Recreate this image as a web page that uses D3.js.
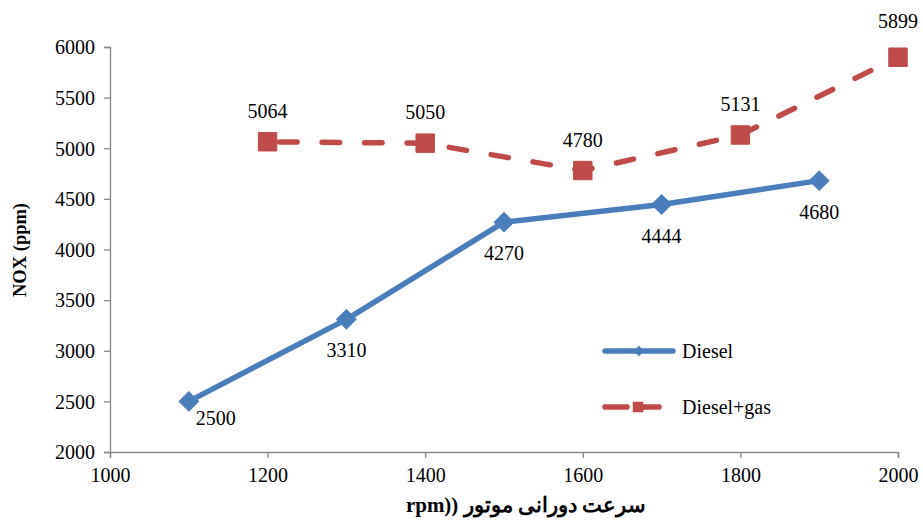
<!DOCTYPE html>
<html>
<head>
<meta charset="utf-8">
<script src="https://cdn.jsdelivr.net/npm/d3@7/dist/d3.min.js"></script>
</head>
<body style="margin:0;background:#fff">
<svg id="chart" width="923" height="522" style="display:block"></svg>
<script>
// Engine speed (rpm) and NOx emission (ppm)
const dieselRpm = [1100, 1300, 1500, 1700, 1900];
const dieselNox = [2500, 3310, 4270, 4444, 4680];
const gasRpm = [1200, 1400, 1600, 1800, 2000];
const gasNox = [5064, 5050, 4780, 5131, 5899];
const xTicks = [1000, 1200, 1400, 1600, 1800, 2000];
const yTicks = [2000, 2500, 3000, 3500, 4000, 4500, 5000, 5500, 6000];
const seriesNames = ["Diesel", "Diesel+gas"];
const xTitle = "rpm)) سرعت دورانی موتور";
const yTitle = "NOX (ppm)";

const blue = "#4A7EBB";
const red = "#BE4B48";
const axisGray = "#868686";
const serif = '"Liberation Serif", "Times New Roman", Tinos';

const svg = d3.select("#chart");
svg.append("rect").attr("width", 923).attr("height", 522).attr("fill", "#fff");

const x = d3.scaleLinear().domain([1000, 2000]).range([110, 898]);
const y = d3.scaleLinear().domain([2000, 6000]).range([452, 47]);

// Axes
const xAxis = svg.append("g").attr("transform", `translate(0,${y(2000)})`)
  .call(d3.axisBottom(x).tickValues(xTicks).tickSize(6).tickPadding(5).tickFormat(d3.format("d")));
const yAxis = svg.append("g").attr("transform", `translate(${x(1000)},0)`)
  .call(d3.axisLeft(y).tickValues(yTicks).tickSize(6).tickPadding(9).tickFormat(d3.format("d")));
[xAxis, yAxis].forEach(g => {
  g.select(".domain").attr("stroke", axisGray).attr("stroke-width", 1.3);
  g.selectAll(".tick line").attr("stroke", axisGray).attr("stroke-width", 1.3);
  g.selectAll(".tick text")
    .style("font-family", serif).style("font-size", "20px").attr("fill", "#000");
});
xAxis.selectAll(".tick text").attr("dy", "0.95em");
yAxis.selectAll(".tick text").attr("dy", "0.34em");

// Axis titles
svg.append("text")
  .attr("x", 526).attr("y", 512)
  .attr("text-anchor", "middle")
  .attr("direction", "ltr")
  .style("font-family", serif).style("font-weight", "bold").style("font-size", "21px")
  .text(xTitle);
svg.append("text")
  .attr("transform", "translate(26,250) rotate(-90)")
  .attr("text-anchor", "middle")
  .style("font-family", serif).style("font-weight", "bold").style("font-size", "18.5px")
  .text(yTitle);

const line = d3.line().x(d => x(d[0])).y(d => y(d[1]));
const dieselPts = dieselRpm.map((r, i) => [r, dieselNox[i]]);
const gasPts = gasRpm.map((r, i) => [r, gasNox[i]]);

// Diesel series: solid line with diamonds
svg.append("path").datum(dieselPts)
  .attr("d", line).attr("fill", "none")
  .attr("stroke", blue).attr("stroke-width", 5.5)
  .attr("stroke-linejoin", "round").attr("stroke-linecap", "round");
const diamond = d3.symbol().type(d3.symbolSquare).size(190);
svg.selectAll(".dmark").data(dieselPts).join("path")
  .attr("d", diamond)
  .attr("transform", d => `translate(${x(d[0])},${y(d[1])}) rotate(45)`)
  .attr("fill", blue).attr("stroke", blue).attr("stroke-width", 1);

// Diesel+gas series: dashed line with squares
svg.append("path").datum(gasPts)
  .attr("d", line).attr("fill", "none")
  .attr("stroke", red).attr("stroke-width", 5.5)
  .attr("stroke-dasharray", "17.5,25")
  .attr("stroke-dashoffset", -12)
  .attr("stroke-linejoin", "round").attr("stroke-linecap", "round");
const square = d3.symbol().type(d3.symbolSquare).size(340);
svg.selectAll(".smark").data(gasPts).join("path")
  .attr("d", square)
  .attr("transform", d => `translate(${x(d[0])},${y(d[1])})`)
  .attr("fill", red).attr("stroke", red).attr("stroke-width", 1);

// Value labels: Diesel below each point, Diesel+gas above
const dieselNudge = { 0: [27, -14] };
const gasNudge = { 4: [0, -5] };
svg.selectAll(".dlabel").data(dieselPts).join("text")
  .attr("x", (d, i) => x(d[0]) + (dieselNudge[i] ? dieselNudge[i][0] : 0))
  .attr("y", (d, i) => y(d[1]) + 38 + (dieselNudge[i] ? dieselNudge[i][1] : 0))
  .attr("text-anchor", "middle")
  .style("font-family", serif).style("font-size", "20px")
  .text(d => d[1]);
svg.selectAll(".glabel").data(gasPts).join("text")
  .attr("x", (d, i) => x(d[0]) + (gasNudge[i] ? gasNudge[i][0] : 0))
  .attr("y", (d, i) => y(d[1]) - 24 + (gasNudge[i] ? gasNudge[i][1] : 0))
  .attr("text-anchor", "middle")
  .style("font-family", serif).style("font-size", "20px")
  .text(d => d[1]);

// Legend
const legend = svg.append("g");
const legendRows = [
  { name: seriesNames[0], color: blue, dash: null, y: 351, sym: "diamond" },
  { name: seriesNames[1], color: red, dash: "22,10", y: 407, sym: "square" }
];
legendRows.forEach(r => {
  legend.append("line")
    .attr("x1", 605).attr("x2", r.dash ? 668 : 673)
    .attr("y1", r.y).attr("y2", r.y)
    .attr("stroke", r.color).attr("stroke-width", 5.5)
    .attr("stroke-linecap", "round")
    .attr("stroke-dasharray", r.dash);
  const sym = r.sym === "diamond"
    ? d3.symbol().type(d3.symbolSquare).size(55)
    : d3.symbol().type(d3.symbolSquare).size(110);
  legend.append("path")
    .attr("d", sym)
    .attr("transform", `translate(${r.sym === "diamond" ? 639 : 638},${r.y})` + (r.sym === "diamond" ? " rotate(45)" : ""))
    .attr("fill", r.color);
  legend.append("text")
    .attr("x", 682).attr("y", r.y + 7)
    .style("font-family", serif).style("font-size", "20px")
    .text(r.name);
});
</script>
</body>
</html>
